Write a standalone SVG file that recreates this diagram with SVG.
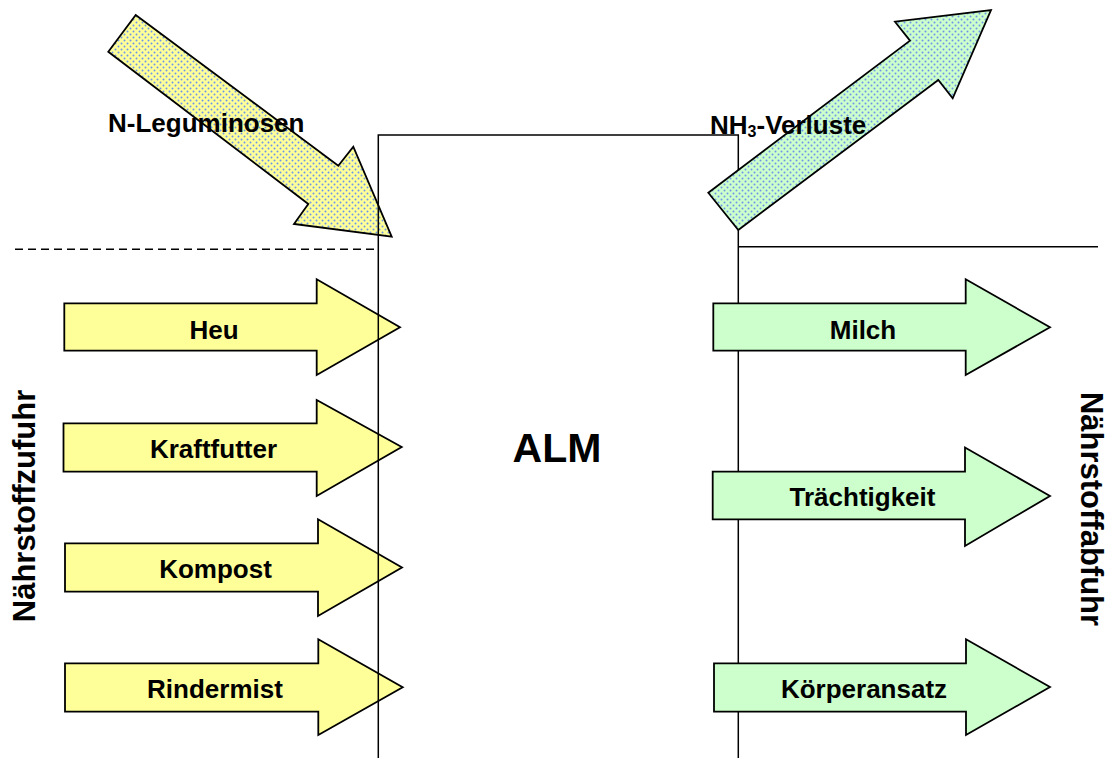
<svg xmlns="http://www.w3.org/2000/svg" width="1110" height="758" viewBox="0 0 1110 758">
<defs>
<pattern id="dotsY" width="6" height="6" patternUnits="userSpaceOnUse">
<rect width="6" height="6" fill="#FFFF99"/>
<circle cx="1.5" cy="1.5" r="1" fill="#6E95E8"/>
<circle cx="4.5" cy="4.5" r="1" fill="#6E95E8"/>
</pattern>
<pattern id="dotsG" width="6" height="6" patternUnits="userSpaceOnUse">
<rect width="6" height="6" fill="#CCFFCC"/>
<circle cx="1.5" cy="1.5" r="1" fill="#6E95E8"/>
<circle cx="4.5" cy="4.5" r="1" fill="#6E95E8"/>
</pattern>
<style>
.arr{stroke:#000;stroke-width:1.8;stroke-linejoin:miter}
.y{fill:#FFFF99}
.g{fill:#CCFFCC}
.ln{fill:none;stroke:#000;stroke-width:1.5}
.lbl{font-family:"Liberation Sans",Arial,sans-serif;font-weight:bold;font-size:26px;fill:#000}
.mid{text-anchor:middle}
.big{font-size:41px}
.side{font-size:31px}
.sub{font-size:16px}
</style>
</defs>

<g id="in-arrows">
<g id="n-leguminosen-arrow"><polygon class="arr" fill="url(#dotsY)" points="135.7,15 338.3,165.7 353.3,146.7 391.7,236.7 294,224 308.3,204 108.3,51.7"/></g>
<g id="heu"><polygon class="arr y" points="64.3,303.3 316.7,303.3 316.7,279.3 400,327.3 316.7,375 316.7,350.7 64.3,350.7"/></g>
<g id="kraftfutter"><polygon class="arr y" points="63.5,423.3 316.7,423.3 316.7,400 401.7,447 316.7,496 316.7,471.7 63.5,471.7"/></g>
<g id="kompost"><polygon class="arr y" points="65,543.3 318,543.3 318,519.3 402,567.5 318,616 318,591.7 65,591.7"/></g>
<g id="rindermist"><polygon class="arr y" points="65,663.3 318.3,663.3 318.3,639.3 402.7,687.3 318.3,735 318.3,711.7 65,711.7"/></g>
</g>

<g id="connectors">
<path class="ln" d="M378.3,758 V135 H738.3 V758"/>
<line class="ln" x1="738.3" y1="246.7" x2="1098" y2="246.7"/>
<line x1="15" y1="249.3" x2="378" y2="249.3" stroke="#000" stroke-width="1.5" stroke-dasharray="8,5"/>
</g>

<g id="out-arrows">
<g id="nh3-arrow"><polygon class="arr" fill="url(#dotsG)" points="708.3,192.7 910,40.7 895,21.7 991,10 952.7,98.3 938.3,80 738.3,230"/></g>
<g id="milch"><polygon class="arr g" points="713.3,303.3 965.7,303.3 965.7,279.3 1050,327.3 965.7,375 965.7,350.7 713.3,350.7"/></g>
<g id="traechtigkeit"><polygon class="arr g" points="712.7,471.7 965,471.7 965,447.5 1050,496 965,546 965,519.3 712.7,519.3"/></g>
<g id="koerperansatz"><polygon class="arr g" points="714,663.3 966,663.3 966,639.3 1050,687 966,735 966,711.7 714,711.7"/></g>
</g>

<g id="labels">
<text class="lbl" x="108" y="131.5">N-Leguminosen</text>
<text class="lbl" x="710" y="133.5">NH<tspan class="sub" dy="3">3</tspan><tspan dy="-3">-Verluste</tspan></text>
<text class="lbl mid" x="214" y="338.5">Heu</text>
<text class="lbl mid" x="213.5" y="458">Kraftfutter</text>
<text class="lbl mid" x="215.5" y="578">Kompost</text>
<text class="lbl mid" x="215" y="698">Rindermist</text>
<text class="lbl mid" x="863" y="339">Milch</text>
<text class="lbl mid" x="862.5" y="506">Trächtigkeit</text>
<text class="lbl mid" x="864" y="698">Körperansatz</text>
<text class="lbl mid big" x="557" y="462">ALM</text>
<text class="lbl mid side" transform="translate(35,506) rotate(-90)">Nährstoffzufuhr</text>
<text class="lbl mid side" transform="translate(1081,509) rotate(90)">Nährstoffabfuhr</text>
</g>
</svg>
